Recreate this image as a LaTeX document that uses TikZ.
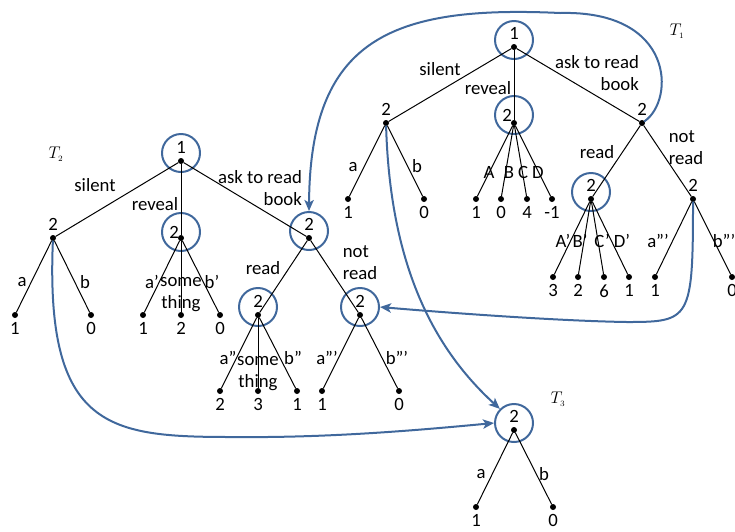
\documentclass[tikz,border=0pt]{standalone}
\usepackage{fontspec}
\setmainfont{Carlito}
\usepackage{tikz}
\usetikzlibrary{positioning}
\usetikzlibrary{arrows.meta}
\definecolor{ringblue}{RGB}{64,104,156}

\tikzset{
  dot/.style={circle, fill=black, inner sep=0pt, minimum size=1.8mm},
  ring/.style={circle, draw=ringblue, line width=0.6mm, inner sep=0pt, minimum size=11.4mm},
  link/.style={ringblue, line width=0.6mm, -{Stealth[length=3.3mm, width=2.8mm, inset=0.8mm]}},
  branch/.style={line width=0.3mm},
  lbl/.style={inner sep=0pt},
  tname/.style={inner sep=0pt, font=\fontsize{15}{17}\selectfont},
}

\begin{document}
\begin{tikzpicture}[x=0.3mm, y=-0.3mm, line cap=round, line join=round, font=\fontsize{16}{18.7}\selectfont]
	\useasboundingbox (0,0) rectangle (735,531);
	% T1
	\node[dot, label=above:1] (t1r) at (514,47) {};
	\node[dot, label=above:2] (t1s) at (386,123) {};
	\node[dot, label={[xshift=-2.1mm, yshift=2.4mm]center:2}] (t1m) at (514,123) {};
	\node[dot, label=above:2] (t1k) at (642,123) {};
	\node[dot, label=below:1] (t1sa) at (348,199) {};
	\node[dot, label=below:0] (t1sb) at (424,199) {};
	\node[dot, label=below:1] (t1mA) at (476,199) {};
	\node[dot, label=below:0] (t1mB) at (501,199) {};
	\node[dot, label=below:4] (t1mC) at (527,199) {};
	\node[dot, label=below:-1] (t1mD) at (552,199) {};
	\node[dot, label=above:2] (t1kr) at (591,199) {};
	\node[dot, label=above:2] (t1kn) at (693,199) {};
	\node[dot, label=below:3] (t1krA) at (553,277) {};
	\node[dot, label=below:2] (t1krB) at (578,277) {};
	\node[dot, label=below:6] (t1krC) at (604,277) {};
	\node[dot, label=below:1] (t1krD) at (629,277) {};
	\node[dot, label=below:1] (t1kna) at (655,277) {};
	\node[dot, label=below:0] (t1knb) at (732,277) {};
	\node[ring] (o-t1r) at ([yshift=2.1mm]t1r) {};
	\node[ring] (o-t1m) at ([yshift=2.4mm]t1m) {};
	\node[ring] (o-t1kr) at ([yshift=2.1mm]t1kr) {};
	\draw[branch] (t1r) -- (t1s);
	\draw[branch] (t1r) -- (t1m);
	\draw[branch] (t1r) -- (t1k);
	\draw[branch] (t1s) -- (t1sa);
	\draw[branch] (t1s) -- (t1sb);
	\draw[branch] (t1m) -- (t1mA);
	\draw[branch] (t1m) -- (t1mB);
	\draw[branch] (t1m) -- (t1mC);
	\draw[branch] (t1m) -- (t1mD);
	\draw[branch] (t1k) -- (t1kr);
	\draw[branch] (t1k) -- (t1kn);
	\draw[branch] (t1kr) -- (t1krA);
	\draw[branch] (t1kr) -- (t1krB);
	\draw[branch] (t1kr) -- (t1krC);
	\draw[branch] (t1kr) -- (t1krD);
	\draw[branch] (t1kn) -- (t1kna);
	\draw[branch] (t1kn) -- (t1knb);
	\node[lbl] (t1silent) at (440,69) {silent};
	\node[lbl] (t1reveal) at (488,88) {reveal};
	\node[lbl, align=right] (t1ask) at (597,73) {ask to read\\book};
	\node[lbl] (t1a) at (353,167) {a};
	\node[lbl] (t1b) at (417,166) {b};
	\node[lbl] (t1A) at (489,172) {A};
	\node[lbl] (t1B) at (509,172) {B};
	\node[lbl] (t1C) at (523,172) {C};
	\node[lbl] (t1D) at (538,172) {D};
	\node[lbl] (t1read) at (597,152) {read};
	\node[lbl, align=left] (t1notread) at (686,148) {not\\read};
	\node[lbl] (t1Ap) at (563,241) {A’};
	\node[lbl] (t1Bp) at (580,241) {B’};
	\node[lbl] (t1Cp) at (602,241) {C’};
	\node[lbl] (t1Dp) at (622,241) {D’};
	\node[lbl] (t1ap) at (658,241) {a”’};
	\node[lbl] (t1bp) at (724,241) {b”’};
	\node[tname] (t1name) at (677,31) {$T_{\scriptscriptstyle 1}$};
	% T2
	\node[dot, label=above:1] (t2r) at (181,161) {};
	\node[dot, label=above:2] (t2s) at (53,238) {};
	\node[dot, label={[xshift=-2.1mm, yshift=1.8mm]center:2}] (t2m) at (181,238) {};
	\node[dot, label=above:2] (t2k) at (309,238) {};
	\node[dot, label=below:1] (t2sa) at (15,315) {};
	\node[dot, label=below:0] (t2sb) at (91,315) {};
	\node[dot, label=below:1] (t2ma) at (143,315) {};
	\node[dot, label=below:2] (t2mb) at (181,315) {};
	\node[dot, label=below:0] (t2mc) at (220,315) {};
	\node[dot, label=above:2] (t2kr) at (258,315) {};
	\node[dot, label=above:2] (t2kn) at (360,315) {};
	\node[dot, label=below:2] (t2kra) at (220,391) {};
	\node[dot, label=below:3] (t2krb) at (258,391) {};
	\node[dot, label=below:1] (t2krc) at (297,391) {};
	\node[dot, label=below:1] (t2kna) at (322,391) {};
	\node[dot, label=below:0] (t2knb) at (399,391) {};
	\node[ring] (o-t2r) at ([yshift=2.4mm]t2r) {};
	\node[ring] (o-t2m) at ([yshift=1.8mm]t2m) {};
	\node[ring] (o-t2k) at ([yshift=2.1mm]t2k) {};
	\node[ring] (o-t2kr) at ([yshift=2.4mm]t2kr) {};
	\node[ring] (o-t2kn) at ([yshift=2.4mm]t2kn) {};
	\draw[branch] (t2r) -- (t2s);
	\draw[branch] (t2r) -- (t2m);
	\draw[branch] (t2r) -- (t2k);
	\draw[branch] (t2s) -- (t2sa);
	\draw[branch] (t2s) -- (t2sb);
	\draw[branch] (t2m) -- (t2ma);
	\draw[branch] (t2m) -- (t2mb);
	\draw[branch] (t2m) -- (t2mc);
	\draw[branch] (t2k) -- (t2kr);
	\draw[branch] (t2k) -- (t2kn);
	\draw[branch] (t2kr) -- (t2kra);
	\draw[branch] (t2kr) -- (t2krb);
	\draw[branch] (t2kr) -- (t2krc);
	\draw[branch] (t2kn) -- (t2kna);
	\draw[branch] (t2kn) -- (t2knb);
	\node[lbl] (t2silent) at (95,185) {silent};
	\node[lbl] (t2reveal) at (155,204) {reveal};
	\node[lbl, align=right] (t2ask) at (260,188) {ask to read\\book};
	\node[lbl] (t2a) at (22,282) {a};
	\node[lbl] (t2b) at (85,282) {b};
	\node[lbl] (t2ap) at (152,282) {a’};
	\node[lbl, align=center] (t2some) at (181,295) {some\\thing};
	\node[lbl] (t2bp) at (212,282) {b’};
	\node[lbl] (t2read) at (263,268) {read};
	\node[lbl, align=left] (t2notread) at (360,263) {not\\read};
	\node[lbl] (t2app) at (228,358) {a”};
	\node[lbl, align=center] (t2some2) at (258,374) {some\\thing};
	\node[lbl] (t2bpp) at (293,358) {b”};
	\node[lbl] (t2appp) at (327,358) {a”’};
	\node[lbl] (t2bppp) at (397,358) {b”’};
	\node[tname] (t2name) at (56,154) {$T_{\scriptscriptstyle 2}$};
	% T3
	\node[dot, label=above:2] (t3r) at (514,430) {};
	\node[dot, label=below:1] (t3a) at (476,507) {};
	\node[dot, label=below:0] (t3b) at (553,507) {};
	\node[ring] (o-t3r) at ([yshift=2.1mm]t3r) {};
	\draw[branch] (t3r) -- (t3a);
	\draw[branch] (t3r) -- (t3b);
	\node[lbl] (t3al) at (481,474) {a};
	\node[lbl] (t3bl) at (544,474) {b};
	\node[tname] (t3name) at (558,399) {$T_{\scriptscriptstyle 3}$};
	% links
	\draw[link] (t1k) .. controls (675,100) and (675,10) .. (560,13) .. controls (390,5) and (310,40) .. (o-t2k.north);
	\draw[link] (t1s) .. controls (390,260) and (430,345) .. (o-t3r.135);
	\draw[link] (t2s) .. controls (45,430) and (110,437) .. (233,437) .. controls (330,438) and (420,430) .. (o-t3r.west);
	\draw[link] (t1kn) .. controls (693,320) and (690,322) .. (627,322) .. controls (560,321) and (450,313) .. (o-t2kn.east);
\end{tikzpicture}
\end{document}
